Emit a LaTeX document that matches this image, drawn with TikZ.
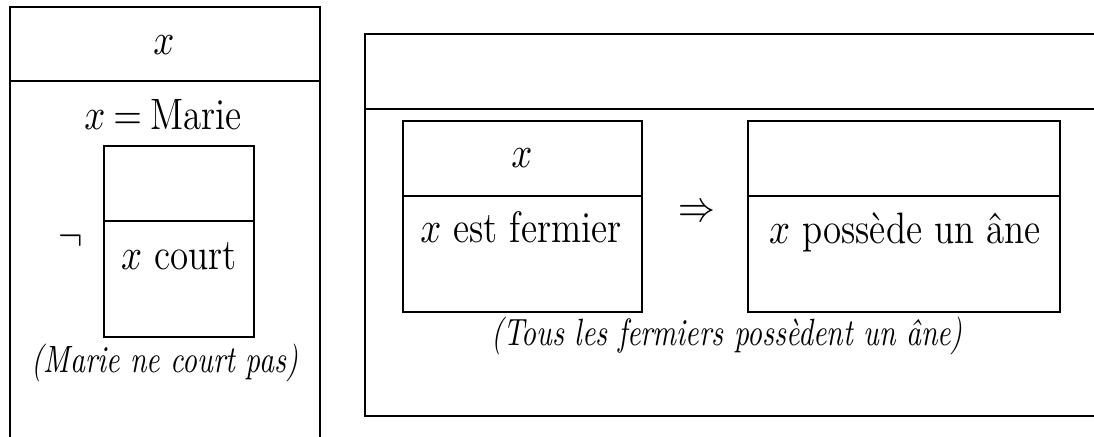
\documentclass[tikz,border=0pt]{standalone}
\newcommand{\sqz}[1]{\scalebox{0.84}[1]{#1}}
\newcommand{\sqzi}[1]{\scalebox{0.77}[1]{#1}}
\begin{document}
\begin{tikzpicture}[x=0.25pt,y=-0.25pt,
  drs/.style={line width=0.55pt, line cap=rect},
  txt/.style={inner sep=0pt, anchor=base, font=\fontsize{11}{13}\selectfont},
  capt/.style={inner sep=0pt, anchor=base, font=\fontsize{9.5}{11}\selectfont\itshape},
  sym/.style={inner sep=0pt, font=\fontsize{11}{13}\selectfont}]
\useasboundingbox (0,0) rectangle (1094,437);
\clip (0,0) rectangle (1094,437);

% ---------- left DRS ----------
\coordinate (LTL) at (10,7);
\coordinate (LTR) at (320,7);
\coordinate (LBL) at (10,450);
\coordinate (LBR) at (320,450);
\coordinate (LDL) at (10,81);
\coordinate (LDR) at (320,81);
\draw[drs] (LBL) -- (LTL) -- (LTR) -- (LBR);
\draw[drs] (LDL) -- (LDR);

\coordinate (NTL) at (104,146);
\coordinate (NBR) at (254,337);
\coordinate (NDL) at (104,221);
\coordinate (NDR) at (254,221);
\draw[drs] (NTL) rectangle (NBR);
\draw[drs] (NDL) -- (NDR);

\node[txt] (lhx) at (164,55) {\sqz{$x$}};
\node[txt] (marie) at (163,130) {\sqz{$x\mskip4mu{=}\mskip4mu$Marie}};
\node[sym] (neg) at (71,241) {\sqz{$\neg$}};
\node[txt] (court) at (179,270) {\sqz{$x$ court}};
\node[capt] (capl) at (165,373) {\sqzi{(Marie ne court pas)}};

% ---------- right DRS ----------
\coordinate (RTL) at (365,34);
\coordinate (RTR) at (1110,34);
\coordinate (RBL) at (365,416);
\coordinate (RBR) at (1110,416);
\coordinate (RDL) at (365,109);
\coordinate (RDR) at (1110,109);
\draw[drs] (RTR) -- (RTL) -- (RBL) -- (RBR);
\draw[drs] (RDL) -- (RDR);

% antecedent box
\coordinate (ATL) at (403,121);
\coordinate (ABR) at (642,312);
\coordinate (ADL) at (403,196);
\coordinate (ADR) at (642,196);
\draw[drs] (ATL) rectangle (ABR);
\draw[drs] (ADL) -- (ADR);
\node[txt] (ahx) at (522,168) {\sqz{$x$}};
\node[txt] (ferm) at (521,243) {\sqz{$x$ est fermier}};

% consequent box
\coordinate (CTL) at (748,121);
\coordinate (CBR) at (1060,312);
\coordinate (CDL) at (748,196);
\coordinate (CDR) at (1060,196);
\draw[drs] (CTL) rectangle (CBR);
\draw[drs] (CDL) -- (CDR);
\node[txt] (poss) at (905,244) {\sqz{$x$ possède un âne}};

\node[sym] (impl) at (697,213) {\sqz{$\Rightarrow$}};

\node[capt] (capr) at (727,346) {\sqzi{(Tous les fermiers possèdent un âne)}};
\end{tikzpicture}
\end{document}
